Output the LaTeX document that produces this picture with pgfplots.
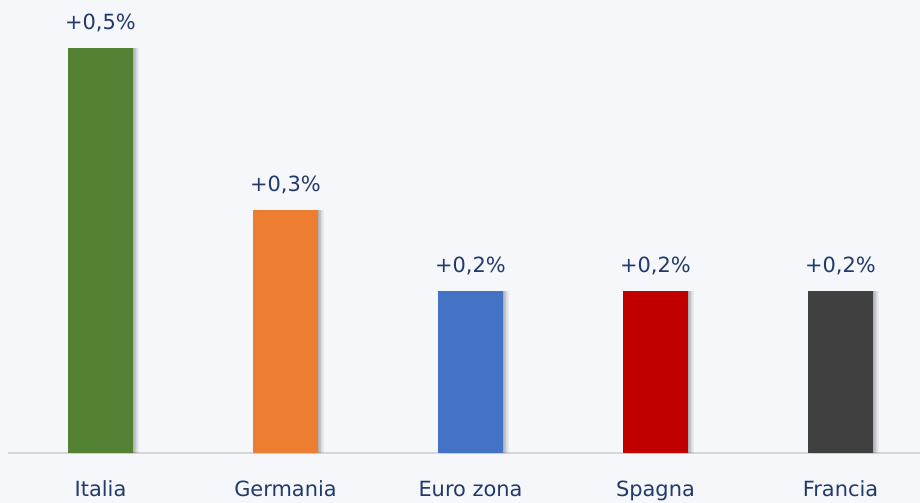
\documentclass[border=0pt]{standalone}
\usepackage{pgfplots}
\pgfplotsset{compat=1.18}
\usepackage{fontspec}
\setmainfont{DejaVu Sans}
\definecolor{bg}{HTML}{F5F7FB}
\definecolor{txt}{HTML}{22396A}
\definecolor{lineg}{HTML}{D4D6DA}
\definecolor{cIT}{HTML}{548235}
\definecolor{cDE}{HTML}{ED7D31}
\definecolor{cEU}{HTML}{4472C4}
\definecolor{cES}{HTML}{C00000}
\definecolor{cFR}{HTML}{404040}
\begin{document}
\begin{tikzpicture}
\fill[bg] (0,0) rectangle (920bp,503bp);
\useasboundingbox (0,0) rectangle (920bp,503bp);
\begin{axis}[
  at={(8bp,50bp)}, anchor=south west,
  scale only axis, width=912bp, height=453bp,
  xmin=-0.5, xmax=4.43, ymin=0, ymax=0.5593,
  ybar, bar width=65bp,
  xtick={0,1,2,3,4},
  xticklabels={Italia,Germania,Euro zona,Spagna,Francia},
  ytick=\empty,
  axis x line*=bottom, axis y line=none,
  x axis line style={-, draw=lineg, line width=2bp},
  major tick length=0pt,
  xticklabel style={font=\fontsize{21}{25}\selectfont, text=txt, anchor=base, yshift=-43bp},
  clip=false,
  shadowbar/.style={ybar, bar width=65bp, draw=none, forget plot},
]
% soft shadows (layered, offset to the right)
\addplot[shadowbar, bar shift=6bp, fill=black, fill opacity=0.05] coordinates {(0,0.5) (1,0.3) (2,0.2) (3,0.2) (4,0.2)};
\addplot[shadowbar, bar shift=4.5bp, fill=black, fill opacity=0.07] coordinates {(0,0.5) (1,0.3) (2,0.2) (3,0.2) (4,0.2)};
\addplot[shadowbar, bar shift=3bp, fill=black, fill opacity=0.09] coordinates {(0,0.5) (1,0.3) (2,0.2) (3,0.2) (4,0.2)};
\addplot[shadowbar, bar shift=1.5bp, fill=black, fill opacity=0.1] coordinates {(0,0.5) (1,0.3) (2,0.2) (3,0.2) (4,0.2)};
\pgfplotsset{every node near coord/.append style={font=\fontsize{21}{25}\selectfont, text=txt, anchor=base, yshift=19bp}}
\addplot[fill=cIT, draw=none, bar shift=0pt, nodes near coords, point meta=explicit symbolic] coordinates {(0,0.5) [+0,5\%]};
\addplot[fill=cDE, draw=none, bar shift=0pt, nodes near coords, point meta=explicit symbolic] coordinates {(1,0.3) [+0,3\%]};
\addplot[fill=cEU, draw=none, bar shift=0pt, nodes near coords, point meta=explicit symbolic] coordinates {(2,0.2) [+0,2\%]};
\addplot[fill=cES, draw=none, bar shift=0pt, nodes near coords, point meta=explicit symbolic] coordinates {(3,0.2) [+0,2\%]};
\addplot[fill=cFR, draw=none, bar shift=0pt, nodes near coords, point meta=explicit symbolic] coordinates {(4,0.2) [+0,2\%]};
\end{axis}
\end{tikzpicture}
\end{document}
